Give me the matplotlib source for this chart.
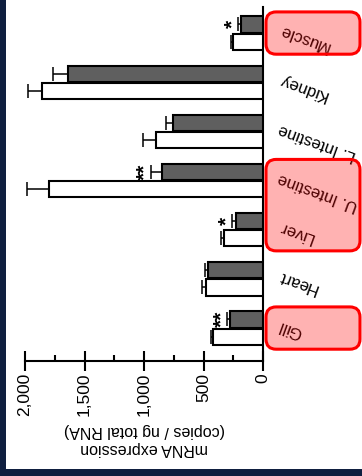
import matplotlib
matplotlib.use("Agg")
import matplotlib.pyplot as plt
import numpy as np
from matplotlib.patches import Rectangle, FancyBboxPatch
from matplotlib.transforms import blended_transform_factory

plt.rcParams['font.family'] = ['Liberation Sans', 'DejaVu Sans']

categories = ['Gill', 'Heart', 'Liver', 'U. Intestine', 'L. Intestine', 'Kidney', 'Muscle']
control = [417, 479, 328, 1796, 899, 1860, 254]
control_err = [17, 36, 22, 185, 112, 112, 17]
treated = [277, 462, 229, 851, 759, 1636, 187]
treated_err = [23, 25, 29, 90, 59, 126, 20]
significance = ['**', '', '*', '**', '', '', '*']
major_ticks = [0, 500, 1000, 1500, 2000]
tick_labels = ['0', '500', '1,000', '1,500', '2,000']
minor_ticks = [250, 750, 1250, 1750]
highlight_groups = [['Gill'], ['Liver', 'U. Intestine'], ['Muscle']]

W, H = 362, 477
fig = plt.figure(figsize=(W / 100, H / 100), dpi=100)
fig.patch.set_facecolor('#0f1f40')
fig.patches.append(Rectangle((6 / W, 7 / H), 1 - 6 / W, 1 - 7 / H, transform=fig.transFigure,
                             facecolor='white', edgecolor='none', zorder=-10))

ax = fig.add_axes([25 / W, 115 / H, 238 / W, 354 / H])
ax.set_facecolor('none')

y = np.arange(len(categories))
off, h = 0.175, 0.33
ekw = dict(ecolor='black', elinewidth=1.1, capsize=5, capthick=1.1)
ax.barh(y - off, control, height=h, color='white', edgecolor='black', linewidth=1.5,
        xerr=[np.zeros(len(y)), control_err], error_kw=ekw, zorder=3)
ax.barh(y + off, treated, height=h, color='#5f5f5f', edgecolor='black', linewidth=1.5,
        xerr=[np.zeros(len(y)), treated_err], error_kw=ekw, zorder=3)

for i, s in enumerate(significance):
    if s:
        ax.text(treated[i] + treated_err[i] + 50, y[i] + off + 0.03, s, rotation=90,
                ha='center', va='center', fontsize=15, fontweight='bold', zorder=4)

ax.set_xlim(2000, 0)
ax.set_ylim(-0.67, len(categories) - 1 + 0.53)
for sp in ['top', 'left']:
    ax.spines[sp].set_visible(False)
ax.spines['bottom'].set_linewidth(1.5)
ax.spines['right'].set_linewidth(1.5)
ax.set_yticks([])
ax.set_xticks(major_ticks)
ax.set_xticklabels(tick_labels, rotation=90, fontsize=12.5)
ax.set_xticks(minor_ticks, minor=True)
ax.tick_params(axis='x', which='major', direction='inout', length=13.7, width=1.5, pad=1)
ax.tick_params(axis='x', which='minor', direction='in', length=4.3, width=1.5)
ax.set_xlabel('mRNA expression\n(copies / ng total RNA)', rotation=180, fontsize=11.5,
              linespacing=1.25, labelpad=5)

# category labels
tr = blended_transform_factory(fig.transFigure, ax.transData)
for i, c in enumerate(categories):
    ax.text(279 / W, y[i] + 0.09, c, transform=tr, rotation=160, rotation_mode='anchor',
            ha='right', va='center', fontsize=12, color='black', clip_on=False)

# highlight boxes (semi-transparent overlay)
for grp in highlight_groups:
    idx = [categories.index(g) for g in grp]
    lo, hi = min(idx), max(idx)
    y_lo = ax.transData.transform((0, lo - 0.43))[1]
    y_hi = ax.transData.transform((0, hi + 0.43))[1]
    x0, x1 = 266, 360
    box = FancyBboxPatch((x0 / W, y_lo / H), (x1 - x0) / W, (y_hi - y_lo) / H,
                         boxstyle='round,pad=0,rounding_size=0.028',
                         transform=fig.transFigure, facecolor=(1, 0, 0, 0.3),
                         edgecolor='#ff0000', linewidth=2.2, zorder=10,
                         mutation_aspect=W / H)
    fig.patches.append(box)

fig.savefig('out.png', dpi=100, facecolor=fig.get_facecolor())
